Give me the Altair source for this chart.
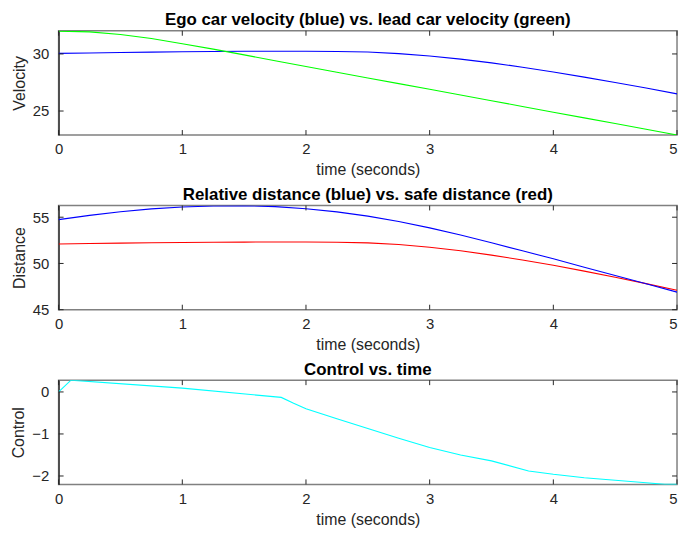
import altair as alt
import pandas as pd

# ---- data ----
t_grid = [0.0, 0.25, 0.5, 0.75, 1.0, 1.25, 1.5, 1.75, 2.0, 2.25, 2.5,
          2.75, 3.0, 3.25, 3.5, 3.75, 4.0, 4.25, 4.5, 4.75, 5.0]
ego_velocity = [30.05, 30.08, 30.12, 30.16, 30.19, 30.21, 30.23, 30.24, 30.24, 30.22, 30.17,
                30.03, 29.82, 29.55, 29.22, 28.84, 28.42, 27.97, 27.5, 27.01, 26.5]
lead_velocity = [32.0, 31.93, 31.7, 31.35, 30.9, 30.42, 29.92, 29.41, 28.9, 28.4, 27.9,
                 27.4, 26.9, 26.4, 25.9, 25.4, 24.9, 24.4, 23.9, 23.4, 22.9]
rel_distance = [54.74, 55.2, 55.6, 55.9, 56.1, 56.22, 56.24, 56.15, 55.92, 55.58, 55.12,
                54.53, 53.85, 53.07, 52.23, 51.37, 50.5, 49.6, 48.7, 47.8, 46.9]
safe_distance = [52.1, 52.15, 52.2, 52.24, 52.27, 52.29, 52.31, 52.32, 52.32, 52.3, 52.23,
                 52.05, 51.75, 51.37, 50.9, 50.38, 49.8, 49.17, 48.5, 47.82, 47.1]
t_control = [0.0, 0.1, 1.0, 1.8, 1.9, 2.0, 2.25, 2.5, 2.75, 3.0, 3.25, 3.5, 3.8,
             4.0, 4.25, 4.5, 4.75, 4.9, 5.0]
control = [0.0, 0.28, 0.09, -0.13, -0.27, -0.4, -0.64, -0.87, -1.1, -1.32, -1.5, -1.64, -1.88,
           -1.96, -2.04, -2.1, -2.16, -2.2, -2.2]

x_ticks = [0, 1, 2, 3, 4, 5]
vel_ticks = [25, 30]
dist_ticks = [45, 50, 55]
ctrl_ticks = [-2, -1, 0]
vel_domain = [22.9, 32.03]
dist_domain = [45, 56.27]
ctrl_domain = [-2.2, 0.28]

W, H = 623, 105
TICK = "#262626"
FONT = "Liberation Sans"


def panel(series, ydomain, yticks, ytitle, title):
    xs = alt.Scale(domain=[0, 5], nice=False, zero=False)
    ys = alt.Scale(domain=ydomain, nice=False, zero=False)
    xax = alt.Axis(values=x_ticks, title="time (seconds)", tickSize=0,
                   domain=False, labelFlush=False, labelPadding=7,
                   labelAlign={"condition": {"test": "datum.value == 5", "value": "right"},
                               "value": "center"},
                   titlePadding=5, format="d")
    yax = alt.Axis(values=yticks, title=ytitle, tickSize=0, domain=True,
                   domainColor="#000000", domainWidth=1, labelPadding=10,
                   titlePadding=5, format="d")
    layers = []
    for tt, vv, col in series:
        df = pd.DataFrame({"t": tt, "v": vv})
        layers.append(
            alt.Chart(df).mark_line(strokeWidth=1.1, clip=True, color=col).encode(
                x=alt.X("t:Q", scale=xs, axis=xax),
                y=alt.Y("v:Q", scale=ys, axis=yax),
            )
        )
    xt = pd.DataFrame({"t": x_ticks})
    yt = pd.DataFrame({"v": yticks})
    xe = alt.X("t:Q", scale=xs, axis=xax)
    ye = alt.Y("v:Q", scale=ys, axis=yax)
    layers.append(alt.Chart(xt).mark_rule(color=TICK, strokeWidth=1).encode(
        x=xe, y=alt.value(H), y2=alt.value(H - 5)))
    layers.append(alt.Chart(xt).mark_rule(color=TICK, strokeWidth=1).encode(
        x=xe, y=alt.value(0), y2=alt.value(5)))
    layers.append(alt.Chart(yt).mark_rule(color=TICK, strokeWidth=1).encode(
        y=ye, x=alt.value(0), x2=alt.value(5)))
    layers.append(alt.Chart(yt).mark_rule(color=TICK, strokeWidth=1).encode(
        y=ye, x=alt.value(W), x2=alt.value(W - 5)))
    return alt.layer(*layers).properties(
        width=W, height=H,
        title=alt.TitleParams(title, fontSize=17, fontWeight="bold", font=FONT,
                              color="#000000", offset=1, anchor="middle"),
    )


p1 = panel([(t_grid, ego_velocity, "#0000ff"), (t_grid, lead_velocity, "#00ff00")],
           vel_domain, vel_ticks, "Velocity",
           "Ego car velocity (blue) vs. lead car velocity (green)")
p2 = panel([(t_grid, safe_distance, "#ff0000"), (t_grid, rel_distance, "#0000ff")],
           dist_domain, dist_ticks, "Distance",
           "Relative distance (blue) vs. safe distance (red)")
p3 = panel([(t_control, control, "#00ffff")], ctrl_domain, ctrl_ticks, "Control",
           "Control vs. time")

chart = alt.vconcat(p1, p2, p3, spacing=6).properties(
    padding={"left": 2, "top": 0, "right": 0, "bottom": 0},
    background="white",
).configure_axis(
    labelFont=FONT, labelFontSize=15, labelColor=TICK,
    titleFont=FONT, titleFontSize=16, titleFontWeight="normal", titleColor=TICK,
    grid=False,
).configure_view(stroke="#808080", strokeWidth=1.5)

chart.save("out.html", embed_options={"renderer": "svg", "actions": False})
